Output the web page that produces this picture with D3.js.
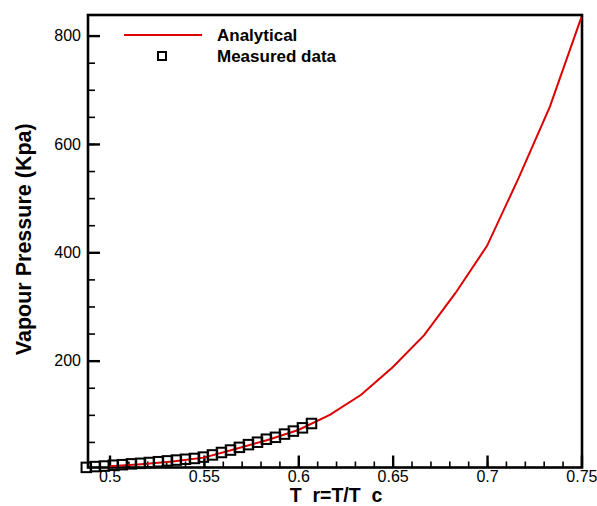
<!DOCTYPE html>
<html>
<head>
<meta charset="utf-8">
<script src="https://cdn.jsdelivr.net/npm/d3@7"></script>
<style>
  body { margin: 0; background: #fff; }
  svg text { font-family: "Liberation Sans", Arial, sans-serif; }
</style>
</head>
<body>
<div id="chart"></div>
<script>
// analytical curve (reduced temperature vs vapour pressure, kPa)
var analyticalTr = [0.5, 0.5167, 0.5333, 0.55, 0.5667, 0.5833, 0.6, 0.6167, 0.6333,
                    0.65, 0.6667, 0.6833, 0.7, 0.7167, 0.7333, 0.75];
var analyticalP  = [5, 9, 14, 21, 37, 53, 72, 100, 137,
                    188, 247, 325, 412, 537, 669, 834];

// measured points
var measuredTr = [0.4877, 0.4925, 0.4973, 0.502, 0.5068, 0.5116, 0.5164, 0.5211, 0.5259,
                  0.5307, 0.5354, 0.5402, 0.545, 0.5497, 0.5545, 0.5593, 0.5641, 0.5688,
                  0.5736, 0.5784, 0.5831, 0.5879, 0.5927, 0.5974, 0.6022, 0.607];
var measuredP  = [3, 4.5, 5.5, 7, 8, 9.5, 10.5, 12, 13.5,
                  15, 16.5, 18, 19.5, 22, 26, 30.5, 35, 40,
                  45, 49.5, 55, 58.5, 64.5, 70, 76, 84];

var xMajor = [0.5, 0.55, 0.6, 0.65, 0.7, 0.75];
var xMinor = d3.range(49, 76).map(d => d / 100);
var yMajor = [200, 400, 600, 800];
var yMinor = d3.range(50, 801, 50);

var width = 597, height = 506;
var plot = {left: 88, right: 582, top: 15, bottom: 467.5};

var svg = d3.select("#chart").append("svg")
    .attr("width", width)
    .attr("height", height);

var x = d3.scaleLinear().domain([0.4886, 0.7503]).range([plot.left, plot.right]);
var y = d3.scaleLinear().domain([2.8, 838]).range([plot.bottom, plot.top]);

// minor ticks (no labels)
svg.append("g")
    .attr("transform", "translate(0," + plot.bottom + ")")
    .call(d3.axisBottom(x).tickValues(xMinor).tickSize(-6).tickFormat(""))
    .call(g => g.select(".domain").remove())
    .call(g => g.selectAll("line").attr("stroke-width", 1.6));

svg.append("g")
    .attr("transform", "translate(" + plot.left + ",0)")
    .call(d3.axisLeft(y).tickValues(yMinor).tickSize(-7).tickFormat(""))
    .call(g => g.select(".domain").remove())
    .call(g => g.selectAll("line").attr("stroke-width", 1.6));

// major ticks with labels
svg.append("g")
    .attr("transform", "translate(0," + plot.bottom + ")")
    .call(d3.axisBottom(x).tickValues(xMajor).tickSize(-12).tickPadding(3.5).tickFormat(d3.format("")))
    .call(g => g.select(".domain").remove())
    .call(g => g.selectAll("line").attr("stroke-width", 2.4))
    .call(g => g.selectAll("text").attr("font-size", 16).attr("fill", "#000"));

svg.append("g")
    .attr("transform", "translate(" + plot.left + ",0)")
    .call(d3.axisLeft(y).tickValues(yMajor).tickSize(-12).tickPadding(7))
    .call(g => g.select(".domain").remove())
    .call(g => g.selectAll("line").attr("stroke-width", 2.4))
    .call(g => g.selectAll("text").attr("font-size", 16).attr("fill", "#000"));

// frame
svg.append("rect")
    .attr("x", plot.left).attr("y", plot.top)
    .attr("width", plot.right - plot.left)
    .attr("height", plot.bottom - plot.top)
    .attr("fill", "none")
    .attr("stroke", "#000")
    .attr("stroke-width", 2.6);

// analytical line
var line = d3.line().x(d => x(d[0])).y(d => y(d[1]));
svg.append("path")
    .datum(d3.zip(analyticalTr, analyticalP))
    .attr("fill", "none")
    .attr("stroke", "#dd0000")
    .attr("stroke-width", 2)
    .attr("d", line);

// measured squares
var sq = 9.5;
svg.append("g").selectAll("rect")
    .data(d3.zip(measuredTr, measuredP))
    .enter().append("rect")
      .attr("x", d => x(d[0]) - sq / 2)
      .attr("y", d => y(d[1]) - sq / 2)
      .attr("width", sq).attr("height", sq)
      .attr("fill", "none")
      .attr("stroke", "#000")
      .attr("stroke-width", 2);

// legend
var legend = svg.append("g");
legend.append("line")
    .attr("x1", 124).attr("x2", 202).attr("y1", 35).attr("y2", 35)
    .attr("stroke", "#dd0000").attr("stroke-width", 2);
legend.append("rect")
    .attr("x", 158).attr("y", 52).attr("width", 8).attr("height", 8)
    .attr("fill", "none").attr("stroke", "#000").attr("stroke-width", 2);
legend.append("text")
    .attr("x", 217).attr("y", 41)
    .attr("font-size", 17).attr("font-weight", "bold")
    .text("Analytical");
legend.append("text")
    .attr("x", 217).attr("y", 62)
    .attr("font-size", 17).attr("font-weight", "bold")
    .text("Measured data");

// axis titles
svg.append("text")
    .attr("transform", "translate(31," + ((plot.top + plot.bottom) / 2 - 2) + ") rotate(-90)")
    .attr("text-anchor", "middle")
    .attr("font-size", 21.5).attr("font-weight", "bold")
    .text("Vapour Pressure (Kpa)");

svg.append("text")
    .attr("x", (plot.left + plot.right) / 2 + 1).attr("y", 502)
    .attr("text-anchor", "middle")
    .attr("font-size", 19.5).attr("font-weight", "bold")
    .attr("xml:space", "preserve")
    .style("white-space", "pre")
    .text("T  r=T/T  c");
</script>
</body>
</html>
